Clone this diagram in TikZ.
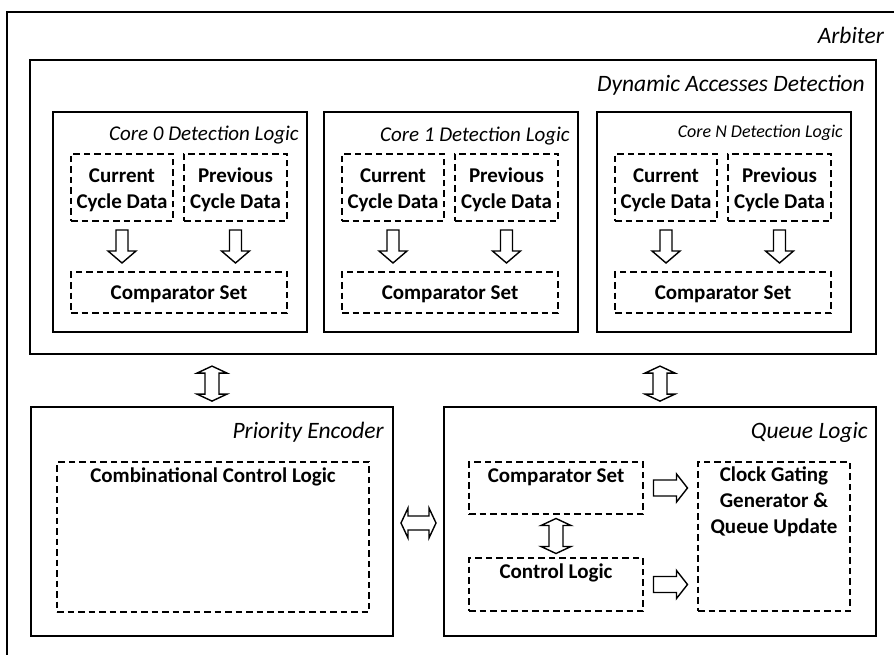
\documentclass[tikz,border=0pt]{standalone}
\usepackage{fontspec}
\setmainfont{Carlito}
\usetikzlibrary{calc}
\tikzset{
  frame/.style={draw=black, line width=2.6pt, rectangle, inner sep=0pt},
  block/.style={draw=black, line width=1.8pt, rectangle, inner sep=0pt},
  dbox/.style={draw=black, line width=1.6pt, dash pattern=on 6.5pt off 4pt, rectangle, inner sep=0pt},
  bigital/.style={font=\fontsize{23.5}{28}\selectfont\itshape, inner sep=0pt, anchor=base east},
  midital/.style={font=\fontsize{21}{26}\selectfont\itshape, inner sep=0pt, anchor=base east},
  smallital/.style={font=\fontsize{18}{22}\selectfont\itshape, inner sep=0pt, anchor=base east},
  btext/.style={font=\fontsize{21}{25.8}\selectfont\bfseries, inner sep=0pt, align=center, anchor=base},
  blockarrow/.style={draw=black, line width=1.4pt, fill=white, line join=miter},
  pics/downarrow/.style={code={
    \draw[blockarrow] (-6,-16.5) -- (6,-16.5) -- (6,4.5) -- (14,4.5) -- (0,16.5)
      -- (-14,4.5) -- (-6,4.5) -- cycle;}},
  pics/vdouble/.style={code={
    \draw[blockarrow] (0,-17.5) -- (15,-10.5) -- (7,-10.5) -- (7,10.5) -- (15,10.5)
      -- (0,17.5) -- (-15,10.5) -- (-7,10.5) -- (-7,-10.5) -- (-15,-10.5) -- cycle;}},
  pics/hdouble/.style={code={
    \draw[blockarrow] (-17.5,0) -- (-10.5,15) -- (-10.5,7) -- (10.5,7) -- (10.5,15)
      -- (17.5,0) -- (10.5,-15) -- (10.5,-7) -- (-10.5,-7) -- (-10.5,-15) -- cycle;}},
  pics/rightarrow/.style={code={
    \draw[blockarrow] (-17,-8) -- (6,-8) -- (6,-14) -- (17,0) -- (6,14) -- (6,8)
      -- (-17,8) -- cycle;}},
}
\begin{document}
\begin{tikzpicture}[x=1pt,y=-1pt]
\useasboundingbox (0,0) rectangle (894,655);
\clip (0,0) rectangle (894,655);
\fill[white] (0,0) rectangle (894,655);

% outer arbiter frame (runs past the page on the right and bottom)
\node[frame, minimum width=895pt, minimum height=651pt] (arb) at (454.5,337.5) {};
\node[bigital] (arblbl) at (884,44) {Arbiter};

% dynamic accesses detection
\node[frame, minimum width=846pt, minimum height=294pt] (dad) at (453,207) {};
\node[bigital] (dadlbl) at (865,92) {Dynamic Accesses Detection};

% per-core detection logic
\foreach \id/\left/\name/\sty/\dy in {0/53/Core 0/midital/29, 1/324/Core 1/midital/30, N/597/Core N/smallital/26} {
  \node[block, minimum width=254pt, minimum height=220pt] (core\id) at (\left+127,222) {};
  \node[\sty] (core\id lbl) at ($(core\id.north east)+(-9,\dy)$) {\name{} Detection Logic};
  \node[dbox, minimum width=102pt, minimum height=67pt] (cur\id) at (\left+69,187.5) {};
  \node[dbox, minimum width=103pt, minimum height=67pt] (prev\id) at (\left+182.5,187.5) {};
  \node[dbox, minimum width=216pt, minimum height=41pt] (cmp\id) at (\left+126,292.5) {};
  \node[btext] (cur\id txt) at ($(cur\id.north)+(0,55)$) {Current\\Cycle Data};
  \node[btext] (prev\id txt) at ($(prev\id.north)+(0,55)$) {Previous\\Cycle Data};
  \node[btext] (cmp\id txt) at ($(cmp\id.north)+(0,28)$) {Comparator Set};
  \pic at ($(cur\id.south)!0.5!(cur\id.south|-cmp\id.north)$) {downarrow};
  \pic at ($(prev\id.south)!0.5!(prev\id.south|-cmp\id.north)$) {downarrow};
}

% priority encoder
\node[block, minimum width=362pt, minimum height=229pt] (pe) at (212,521.5) {};
\node[bigital] (pelbl) at ($(pe.north east)+(-10,32)$) {Priority Encoder};
\node[dbox, minimum width=312pt, minimum height=150pt] (ccl) at (213,537) {};
\node[btext] (ccltxt) at ($(ccl.north)+(0,21)$) {Combinational Control Logic};

% queue logic
\node[block, minimum width=432pt, minimum height=229pt] (ql) at (660,521.5) {};
\node[bigital] (qllbl) at ($(ql.north east)+(-9,32)$) {Queue Logic};
\node[dbox, minimum width=174pt, minimum height=52pt] (qcmp) at (556,488) {};
\node[btext] (qcmptxt) at ($(qcmp.north)+(0,21)$) {Comparator Set};
\node[dbox, minimum width=174pt, minimum height=53pt] (qctl) at (556,584.5) {};
\node[btext] (qctltxt) at ($(qctl.north)+(0,21)$) {Control Logic};
\node[dbox, minimum width=152pt, minimum height=149pt] (clk) at (774,536.5) {};
\node[btext] (clktxt) at ($(clk.north)+(0,72)$) {Clock Gating\\Generator \&\\Queue Update};

% connections between the blocks
\pic at ($(pe.north)+(0,-22.5)$) {vdouble};
\pic at ($(ql.north)+(0,-22.5)$) {vdouble};
\pic at ($(pe.east)!0.5!(ql.west)+(0,1.5)$) {hdouble};
\pic at ($(qcmp.south)!0.5!(qctl.north)$) {vdouble};
\pic at ($(qcmp.east)!0.5!(qcmp.east-|clk.west)$) {rightarrow};
\pic at ($(qctl.east)!0.5!(qctl.east-|clk.west)$) {rightarrow};
\end{tikzpicture}
\end{document}
